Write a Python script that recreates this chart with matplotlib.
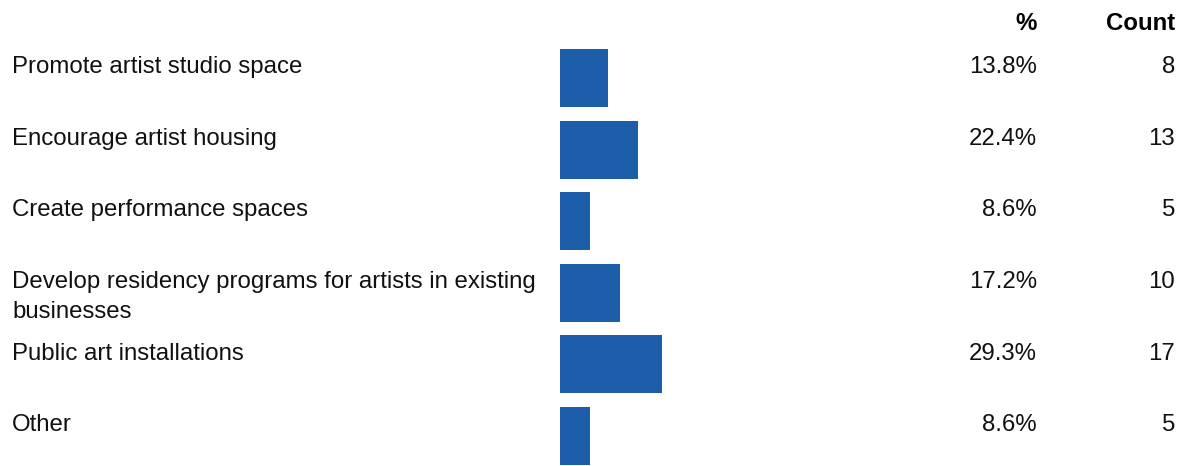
import matplotlib.pyplot as plt
import matplotlib.transforms as mtransforms

# data
categories = ['Promote artist studio space',
              'Encourage artist housing',
              'Create performance spaces',
              'Develop residency programs for artists in existing\nbusinesses',
              'Public art installations',
              'Other']
percents = [13.8, 22.4, 8.6, 17.2, 29.3, 8.6]
counts = [8, 13, 5, 10, 17, 5]

W, H = 1186, 466
bar_color = '#1c5ea9'
plt.rcParams['font.family'] = ['Liberation Sans', 'DejaVu Sans']

fig = plt.figure(figsize=(W / 100, H / 100), dpi=100)
# bar area: x from 560px, 100% = 348px
ax = fig.add_axes([560 / W, 0, 348 / W, 1])
ax.set_xlim(0, 100)
pitch = 71.6
first = 78
ax.set_ylim((H - first) / pitch, -first / pitch)
ax.axis('off')

ypos = list(range(len(categories)))
ax.barh(ypos, percents, height=0.81, color=bar_color)

fs = 17.3
trans = mtransforms.blended_transform_factory(fig.transFigure, ax.transData)
for i, (cat, p, c) in enumerate(zip(categories, percents, counts)):
    ty = i - 0.405 + 0.1
    ax.text(12 / W, ty, cat, transform=trans, fontsize=fs, va='top',
            ha='left', color='#111111', linespacing=1.5)
    ax.text(1037 / W, ty, f'{p:.1f}%', transform=trans, fontsize=fs,
            va='top', ha='right', color='#111111')
    ax.text(1175 / W, ty, str(c), transform=trans, fontsize=fs,
            va='top', ha='right', color='#111111')

fig.text(1037 / W, 1 - 23 / H, '%', fontsize=fs, fontweight='bold',
         ha='right', va='center')
fig.text(1175 / W, 1 - 23 / H, 'Count', fontsize=fs, fontweight='bold',
         ha='right', va='center')

fig.savefig('out.png', dpi=100)
